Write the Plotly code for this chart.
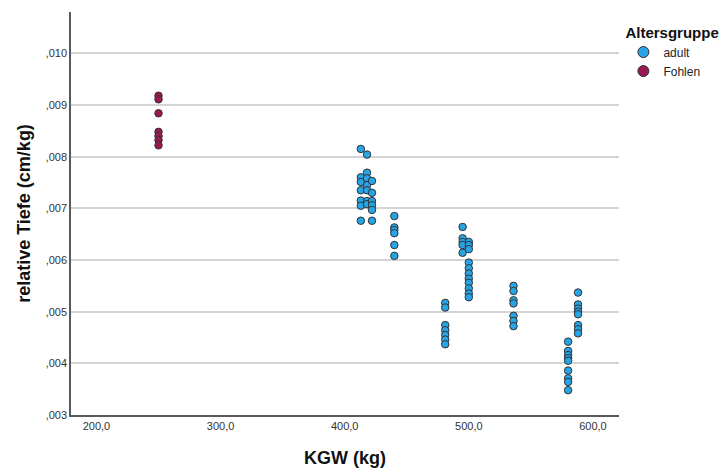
import plotly.graph_objects as go

# Body weight (KGW, kg) and relative depth (cm/kg) per age group
adult_kgw = (
    [413] * 7 + [418] * 7 + [422] * 6 + [440] * 6 + [481] * 7
    + [495] * 5 + [500] * 11 + [536] * 7 + [580] * 9 + [588] * 8
)
adult_tiefe = [
    # 413
    0.00815, 0.00760, 0.00751, 0.00735, 0.00715, 0.00705, 0.00676,
    # 418
    0.00804, 0.00769, 0.00758, 0.00745, 0.00735, 0.00714, 0.00708,
    # 422
    0.00753, 0.00730, 0.00714, 0.00706, 0.00697, 0.00676,
    # 440
    0.00685, 0.00663, 0.00658, 0.00652, 0.00629, 0.00608,
    # 481
    0.00517, 0.00508, 0.00474, 0.00464, 0.00455, 0.00446, 0.00437,
    # 495
    0.00664, 0.00642, 0.00635, 0.00629, 0.00614,
    # 500
    0.00635, 0.00629, 0.00621, 0.00595, 0.00584, 0.00574, 0.00564,
    0.00556, 0.00545, 0.00535, 0.00528,
    # 536
    0.00550, 0.00540, 0.00522, 0.00516, 0.00492, 0.00482, 0.00472,
    # 580
    0.00442, 0.00424, 0.00416, 0.00410, 0.00405, 0.00386, 0.00371,
    0.00364, 0.00348,
    # 588
    0.00537, 0.00514, 0.00506, 0.00500, 0.00495, 0.00474, 0.00466,
    0.00458,
]

fohlen_kgw = [250] * 7
fohlen_tiefe = [0.00918, 0.00911, 0.00884, 0.00848, 0.00840, 0.00832, 0.00822]

y_tickvals = [0.003, 0.004, 0.005, 0.006, 0.007, 0.008, 0.009, 0.010]
y_ticktext = [",003", ",004", ",005", ",006", ",007", ",008", ",009", ",010"]
x_tickvals = [200, 300, 400, 500, 600]
x_ticktext = ["200,0", "300,0", "400,0", "500,0", "600,0"]

group_names = ["adult", "Fohlen"]
group_colors = ["#27A4E6", "#981A52"]

FONT = "Liberation Sans, Arial, sans-serif"
OUTLINE = dict(color="#333333", width=1)

fig = go.Figure()

# Data points
for name, color, xs, ys in [
    (group_names[0], group_colors[0], adult_kgw, adult_tiefe),
    (group_names[1], group_colors[1], fohlen_kgw, fohlen_tiefe),
]:
    fig.add_trace(go.Scatter(
        x=xs, y=ys, mode="markers", name=name, showlegend=False,
        marker=dict(symbol="circle", size=7.5, color=color, line=OUTLINE),
        hoverinfo="x+y+name",
    ))

# Legend entries with larger symbols
for name, color in zip(group_names, group_colors):
    fig.add_trace(go.Scatter(
        x=[None], y=[None], mode="markers", name=name, showlegend=True,
        marker=dict(symbol="circle", size=11, color=color, line=OUTLINE),
    ))

fig.update_layout(
    width=726, height=472,
    margin=dict(l=71, r=107, t=12, b=57, autoexpand=False),
    paper_bgcolor="white", plot_bgcolor="white",
    font=dict(family=FONT, size=11, color="#333333"),
    showlegend=True,
    legend=dict(
        title=dict(text="<b>Altersgruppe</b>", font=dict(size=15, color="#111111")),
        font=dict(size=12, color="#222222"),
        x=1.008, xanchor="left", y=0.985, yanchor="top",
        itemwidth=30, tracegroupgap=0,
        bgcolor="rgba(0,0,0,0)",
    ),
    xaxis=dict(
        range=[179.5, 621], tickvals=x_tickvals, ticktext=x_ticktext,
        showgrid=False, zeroline=False, automargin=False,
        showline=True, linecolor="#5a5a5a", linewidth=1.5,
        ticks="", tickfont=dict(size=11, color="#333333"),
        title=dict(text="<b>KGW (kg)</b>", font=dict(size=18, color="#111111"),
                   standoff=20),
    ),
    yaxis=dict(
        range=[0.003, 0.0108], tickvals=y_tickvals, ticktext=y_ticktext,
        showgrid=True, gridcolor="#d4d4d4", gridwidth=1.5, zeroline=False,
        automargin=False,
        showline=True, linecolor="#5a5a5a", linewidth=1.5,
        ticks="", tickfont=dict(size=11, color="#333333"),
        title=dict(text="<b>relative Tiefe (cm/kg)</b>",
                   font=dict(size=18, color="#111111"), standoff=10),
    ),
)

fig.write_html("out.html")
